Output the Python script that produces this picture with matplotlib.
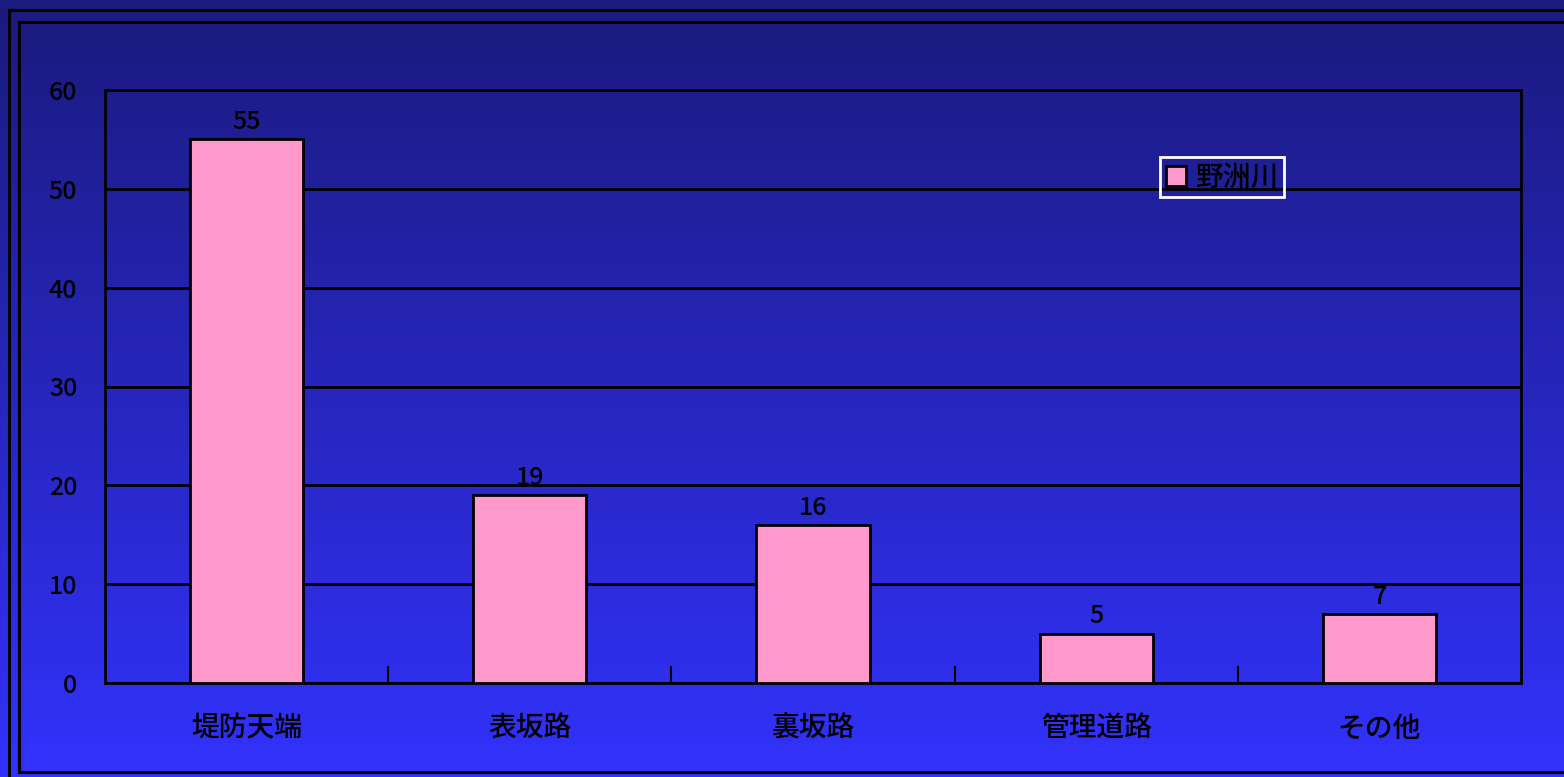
import matplotlib
matplotlib.use("Agg")
import matplotlib.pyplot as plt
import numpy as np
from matplotlib.lines import Line2D

categories = ["堤防天端", "表坂路", "裏坂路", "管理道路", "その他"]
values = [55, 19, 16, 5, 7]
series_name = "野洲川"
yticks = [0, 10, 20, 30, 40, 50, 60]

plt.rcParams['font.family'] = ['Noto Sans CJK JP', 'DejaVu Sans']
plt.rcParams['font.weight'] = 'medium'

W, H = 1564, 777
fig = plt.figure(figsize=(W / 100, H / 100), dpi=100)

# gradient background
bg = fig.add_axes([0, 0, 1, 1], zorder=-10)
top = np.array([27, 26, 125]) / 255
bot = np.array([50, 50, 252]) / 255
t = np.linspace(0, 1, 256)[:, None]
grad = (top[None, :] * (1 - t) + bot[None, :] * t)[:, None, :]
bg.imshow(grad, aspect='auto', extent=[0, 1, 0, 1], origin='upper')
bg.set_xlim(0, 1)
bg.set_ylim(0, 1)
bg.axis('off')

# double border
def px(x, y):
    return x / W, 1 - y / H
for (x0, y0) in [(8.5, 10), (18.5, 22)]:
    xa, ya = px(x0, y0)
    if x0 < 10:
        yb = -0.1
    else:
        _, yb = px(0, 772)
    bg.add_line(Line2D([xa, 1.1], [ya, ya], color='black', lw=2.2, transform=bg.transAxes))
    bg.add_line(Line2D([xa, xa], [ya, yb], color='black', lw=2.2, transform=bg.transAxes))
    if x0 > 10:
        bg.add_line(Line2D([xa, 1.1], [yb, yb], color='black', lw=2.2, transform=bg.transAxes))

ax = fig.add_axes([105 / W, 1 - 683 / H, (1521 - 105) / W, (683 - 90) / H])
ax.patch.set_alpha(0)

x = np.arange(len(categories))
ax.bar(x, values, width=0.4, color='#ff99cc', edgecolor='black', linewidth=2,
       zorder=3, label=series_name)
for xi, v in zip(x, values):
    ax.annotate(str(v), (xi, v), xytext=(0, 3), textcoords='offset points',
                ha='center', va='bottom', fontsize=18, color='black')

ax.set_xlim(-0.5, len(categories) - 0.5)
ax.set_ylim(0, 60)
ax.set_yticks(yticks)
ax.set_yticklabels([str(v) for v in yticks], fontsize=18)
ax.tick_params(axis='y', length=0, pad=20)
ax.yaxis.grid(True, color='black', linewidth=2)
ax.set_axisbelow(True)

ax.set_xticks(x)
ax.set_xticklabels(categories, fontsize=20)
ax.tick_params(axis='x', length=0, pad=22)
ax.set_xticks(np.arange(0.5, len(categories) - 0.5, 1), minor=True)
ax.tick_params(axis='x', which='minor', direction='in', length=12, width=1.5, color='black')

for s in ax.spines.values():
    s.set_color('black')
    s.set_linewidth(2)

leg = ax.legend(loc='upper left', bbox_to_anchor=((1160 - 105) / 1416, (683 - 157) / 593),
                frameon=True, fancybox=False, framealpha=1, fontsize=20,
                handlelength=0.75, handleheight=0.75,
                handletextpad=0.3, borderpad=0.2, borderaxespad=0)
leg.get_frame().set_facecolor('none')
leg.get_frame().set_edgecolor('white')
leg.get_frame().set_linewidth(2)

fig.savefig('out.png', dpi=100)
